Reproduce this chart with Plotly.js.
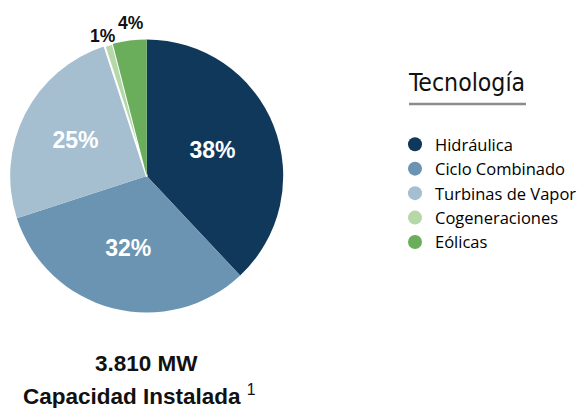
<!DOCTYPE html>
<html><head><meta charset="utf-8">
<script src="https://cdn.plot.ly/plotly-3.0.1.min.js"></script>
<style>html,body{margin:0;padding:0;background:#fff}#chart{width:582px;height:408px}</style>
</head><body><div id="chart"></div>
<script>
const categories = ['Hidráulica', 'Ciclo Combinado', 'Turbinas de Vapor', 'Cogeneraciones', 'Eólicas'];
const shares = [38, 32, 25, 1, 4];
const colors = ['#10385a', '#6a94b1', '#a5bed0', '#b6d7a8', '#6aad5a'];
const legendTitle = 'Tecnología';
const totalLabel = '3.810 MW';
const subtitleLabel = 'Capacidad Instalada';
const footnoteMark = '1';

const pie = {
  type: 'pie', labels: categories, values: shares, sort: false,
  direction: 'clockwise', rotation: 0,
  marker: {colors: colors, line: {color: '#ffffff', width: [0, 0, 0, 2, 0]}},
  texttemplate: '%{percent:.0%}',
  textposition: ['inside', 'inside', 'inside', 'none', 'none'],
  insidetextorientation: 'horizontal',
  insidetextfont: {family: 'Liberation Sans, Arial, sans-serif', size: 23, color: '#ffffff', weight: 'bold'},
  domain: {x: [0.01753, 0.4866], y: [0.2341, 0.9032]},
  showlegend: false, hoverinfo: 'none'
};

const legendTraces = categories.map((c, i) => ({
  type: 'scatter', mode: 'markers', x: [null], y: [null], name: c,
  marker: {color: colors[i], size: 14, symbol: 'circle'}, hoverinfo: 'none'
}));

const smallLabelFont = {family: 'Liberation Sans, Arial, sans-serif', size: 17.5, color: '#111111', weight: 'bold'};

const layout = {
  width: 582, height: 408,
  margin: {l: 0, r: 0, t: 0, b: 0},
  paper_bgcolor: '#ffffff', plot_bgcolor: '#ffffff',
  xaxis: {visible: false}, yaxis: {visible: false},
  showlegend: true,
  legend: {
    x: 395 / 582, xanchor: 'left', y: 1 - 127 / 408, yanchor: 'top',
    font: {family: 'Open Sans, sans-serif', size: 16.5, color: '#000000'},
    bgcolor: 'rgba(0,0,0,0)', borderwidth: 0, tracegroupgap: 0
  },
  annotations: [
    {xref: 'paper', yref: 'paper', x: 406 / 582, y: 1 - 83 / 408, xanchor: 'left', yanchor: 'middle',
     text: legendTitle, showarrow: false,
     font: {family: 'Liberation Sans Narrow, DejaVu Sans Condensed, sans-serif', size: 24.6, color: '#111111'}},
    {xref: 'paper', yref: 'paper', x: 103 / 582, y: 1 - 35.5 / 408, xanchor: 'center', yanchor: 'middle',
     text: Math.round(shares[3]) + '%', showarrow: false, font: smallLabelFont},
    {xref: 'paper', yref: 'paper', x: 130.5 / 582, y: 1 - 23 / 408, xanchor: 'center', yanchor: 'middle',
     text: Math.round(shares[4]) + '%', showarrow: false, font: smallLabelFont},
    {xref: 'paper', yref: 'paper', x: 146 / 582, y: 1 - 363 / 408, xanchor: 'center', yanchor: 'middle',
     text: '<b>' + totalLabel + '</b>', showarrow: false,
     font: {family: 'Liberation Sans, Arial, sans-serif', size: 22.5, color: '#111111'}},
    {xref: 'paper', yref: 'paper', x: 139 / 582, y: 1 - 395 / 408, xanchor: 'center', yanchor: 'middle',
     text: '<b>' + subtitleLabel + '</b> <sup>' + footnoteMark + '</sup>', showarrow: false,
     font: {family: 'Liberation Sans, Arial, sans-serif', size: 22.5, color: '#111111'}}
  ],
  shapes: [
    {type: 'line', xref: 'paper', yref: 'paper', x0: 409 / 582, x1: 526 / 582,
     y0: 1 - 104 / 408, y1: 1 - 104 / 408, line: {color: '#8c8c8c', width: 2.5}}
  ]
};

Plotly.newPlot('chart', [pie].concat(legendTraces), layout, {displayModeBar: false, staticPlot: true});
</script>
</body></html>
